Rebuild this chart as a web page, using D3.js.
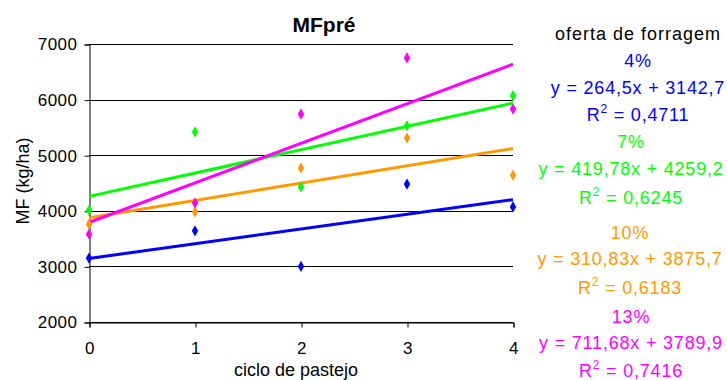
<!DOCTYPE html>
<html>
<head>
<meta charset="utf-8">
<script src="https://cdn.jsdelivr.net/npm/d3@7"></script>
<style>
	body { margin: 0; background: #fff; }
	svg { font-family: "Liberation Sans", Arial, sans-serif; }
</style>
</head>
<body>
<div id="chart"></div>
<script>
	// ciclo de pastejo
	var cycles = [0, 1, 2, 3, 4];
	var yTicks = [2000, 3000, 4000, 5000, 6000, 7000];

	// MF (kg/ha) per oferta de forragem
	var seriesNames = ["4%", "7%", "10%", "13%"];
	var mf4 = [3150, 3640, 3000, 4480, 4070];
	var mf7 = [4010, 5420, 4430, 5530, 6070];
	var mf10 = [3760, 3980, 4770, 5310, 4640];
	var mf13 = [3580, 4140, 5740, 6750, 5830];

	// trend lines as printed on the chart
	var slopes = [264.5, 419.78, 310.83, 711.68];
	var intercepts = [3142.7, 4259.2, 3875.7, 3789.9];
	var eqLabels = ["y = 264,5x + 3142,7", "y = 419,78x + 4259,2", "y = 310,83x + 3875,7", "y = 711,68x + 3789,9"];
	var r2Labels = ["0,4711", "0,6245", "0,6183", "0,7416"];

	var colors = ["#0000ff", "#00ff00", "#ff9900", "#ff00ff"];
	var allSeries = [mf4, mf7, mf10, mf13];

	var w = 727, h = 380;

	var svg = d3.select("#chart").append("svg")
		.attr("width", w)
		.attr("height", h);

	var x = d3.scaleLinear().domain([0, 4]).range([89, 513]);
	var y = d3.scaleLinear().domain([2000, 7000]).range([322, 44]);

	// gridlines
	svg.append("g")
		.selectAll("line")
		.data(yTicks)
		.enter().append("line")
		.attr("x1", x(0))
		.attr("x2", x(4))
		.attr("y1", function(d){ return Math.round(y(d)) + 0.5; })
		.attr("y2", function(d){ return Math.round(y(d)) + 0.5; })
		.style("stroke", "#000")
		.style("stroke-width", 1);

	// y axis
	var yAxis = svg.append("g")
		.attr("transform", "translate(" + (x(0) + 0.5) + ",0.5)")
		.call(d3.axisLeft(y).tickValues(yTicks).tickSize(5).tickPadding(7).tickFormat(d3.format("d")));

	// x axis
	var xAxis = svg.append("g")
		.attr("transform", "translate(0.5," + (Math.round(y(2000)) + 0.5) + ")")
		.call(d3.axisBottom(x).tickValues(cycles).tickSize(5).tickPadding(14).tickFormat(d3.format("d")));

	[yAxis, xAxis].forEach(function(ax){
		ax.select(".domain").style("stroke", "#000");
		ax.selectAll(".tick line").style("stroke", "#000");
		ax.selectAll("text")
			.style("font-size", "17px")
			.style("letter-spacing", "0.5px")
			.style("fill", "#000")
			.style("font-family", "Liberation Sans, Arial, sans-serif");
	});

	// trend lines
	var lines = svg.append("g");
	seriesNames.forEach(function(name, i){
		lines.append("line")
			.attr("x1", x(0))
			.attr("x2", x(4))
			.attr("y1", y(intercepts[i]))
			.attr("y2", y(intercepts[i] + slopes[i] * 4))
			.style("stroke", colors[i])
			.style("stroke-width", 3);
	});

	// points
	var diamond = d3.symbol().type(d3.symbolDiamond).size(36);
	allSeries.forEach(function(vals, i){
		svg.append("g")
			.selectAll("path")
			.data(vals)
			.enter().append("path")
			.attr("d", diamond)
			.attr("transform", function(d, j){ return "translate(" + x(cycles[j]) + "," + y(d) + ")"; })
			.style("fill", colors[i]);
	});

	// title
	svg.append("text")
		.attr("x", 324)
		.attr("y", 32)
		.attr("text-anchor", "middle")
		.style("font-size", "21px")
		.style("font-weight", "bold")
		.text("MFpré");

	// axis titles
	svg.append("text")
		.attr("transform", "translate(29,181) rotate(-90)")
		.attr("text-anchor", "middle")
		.style("font-size", "18px")
		.text("MF (kg/ha)");

	svg.append("text")
		.attr("x", 296)
		.attr("y", 376)
		.attr("text-anchor", "middle")
		.style("font-size", "18px")
		.text("ciclo de pastejo");

	// legend block on the right
	var legend = svg.append("g")
		.style("font-size", "18px")
		.style("letter-spacing", "0.8px")
		.attr("text-anchor", "middle");

	legend.append("text")
		.attr("x", 638)
		.attr("y", 40)
		.style("fill", "#000")
		.style("letter-spacing", "1px")
		.text("oferta de forragem");

	var rowY = [[67, 94, 121], [148, 175, 204], [239, 265, 294], [323, 349, 377]];
	var rowX = [638, 631, 630, 631];

	seriesNames.forEach(function(name, i){
		legend.append("text")
			.attr("x", rowX[i])
			.attr("y", rowY[i][0])
			.style("fill", colors[i])
			.text(name);
		legend.append("text")
			.attr("x", rowX[i])
			.attr("y", rowY[i][1])
			.style("fill", colors[i])
			.text(eqLabels[i]);
		var r2 = legend.append("text")
			.attr("x", rowX[i])
			.attr("y", rowY[i][2])
			.style("fill", colors[i]);
		r2.append("tspan").text("R");
		r2.append("tspan").attr("dy", -8).style("font-size", "12px").text("2");
		r2.append("tspan").attr("dy", 8).text(" = " + r2Labels[i]);
	});
</script>
</body>
</html>
